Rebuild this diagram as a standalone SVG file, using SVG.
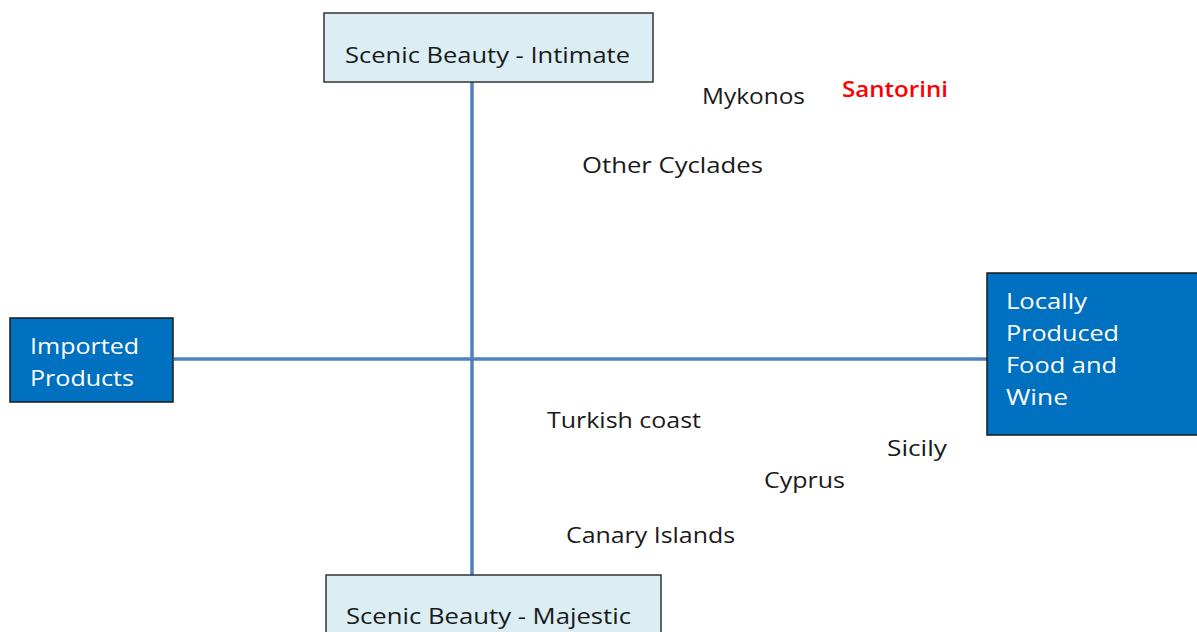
<svg xmlns="http://www.w3.org/2000/svg" width="1197" height="632" viewBox="0 0 1197 632">
  <style>
    text { font-family: "Open Sans", "Liberation Sans", sans-serif; font-size: 22px; }
    .lbl { fill: #1a1a1a; }
    .wht { fill: #ffffff; }
    .red { fill: #ff0000; font-weight: 600; }
    .pale { fill: #daeef3; stroke: #333333; stroke-width: 1.5; }
    .dark { fill: #0070c0; stroke: #1a1a1a; stroke-width: 1.5; }
    .axis { stroke: #4f81bd; stroke-width: 3.5; fill: none; }
  </style>
  <rect width="1197" height="632" fill="#ffffff"/>

  <!-- axes -->
  <g id="connectors">
    <line class="axis" x1="472" y1="82" x2="472" y2="575"/>
    <line class="axis" x1="174" y1="359" x2="987" y2="359"/>
  </g>

  <g id="top">
    <rect class="pale" x="324" y="13" width="329" height="69"/>
    <text class="lbl" x="345" y="63" textLength="285" lengthAdjust="spacingAndGlyphs">Scenic Beauty - Intimate</text>
  </g>

  <g id="bottom">
    <rect class="pale" x="326" y="575" width="335" height="70"/>
    <text class="lbl" x="346" y="624" textLength="285" lengthAdjust="spacingAndGlyphs">Scenic Beauty - Majestic</text>
  </g>

  <g id="left">
    <rect class="dark" x="10" y="318" width="163" height="84"/>
    <text class="wht" x="30" y="354" textLength="109" lengthAdjust="spacingAndGlyphs">Imported</text>
    <text class="wht" x="30" y="386" textLength="104" lengthAdjust="spacingAndGlyphs">Products</text>
  </g>

  <g id="right">
    <rect class="dark" x="987" y="273" width="220" height="162"/>
    <text class="wht" x="1006" y="309" textLength="81" lengthAdjust="spacingAndGlyphs">Locally</text>
    <text class="wht" x="1006" y="341" textLength="113" lengthAdjust="spacingAndGlyphs">Produced</text>
    <text class="wht" x="1006" y="373" textLength="111" lengthAdjust="spacingAndGlyphs">Food and</text>
    <text class="wht" x="1006" y="405" textLength="62" lengthAdjust="spacingAndGlyphs">Wine</text>
  </g>

  <g id="places">
    <text class="lbl" x="702" y="104" textLength="103" lengthAdjust="spacingAndGlyphs">Mykonos</text>
    <text class="red" x="842" y="97" textLength="106" lengthAdjust="spacingAndGlyphs">Santorini</text>
    <text class="lbl" x="582" y="173" textLength="181" lengthAdjust="spacingAndGlyphs">Other Cyclades</text>
    <text class="lbl" x="547" y="428" textLength="154" lengthAdjust="spacingAndGlyphs">Turkish coast</text>
    <text class="lbl" x="887" y="456" textLength="60" lengthAdjust="spacingAndGlyphs">Sicily</text>
    <text class="lbl" x="764" y="488" textLength="81" lengthAdjust="spacingAndGlyphs">Cyprus</text>
    <text class="lbl" x="566" y="543" textLength="169" lengthAdjust="spacingAndGlyphs">Canary Islands</text>
  </g>
</svg>
